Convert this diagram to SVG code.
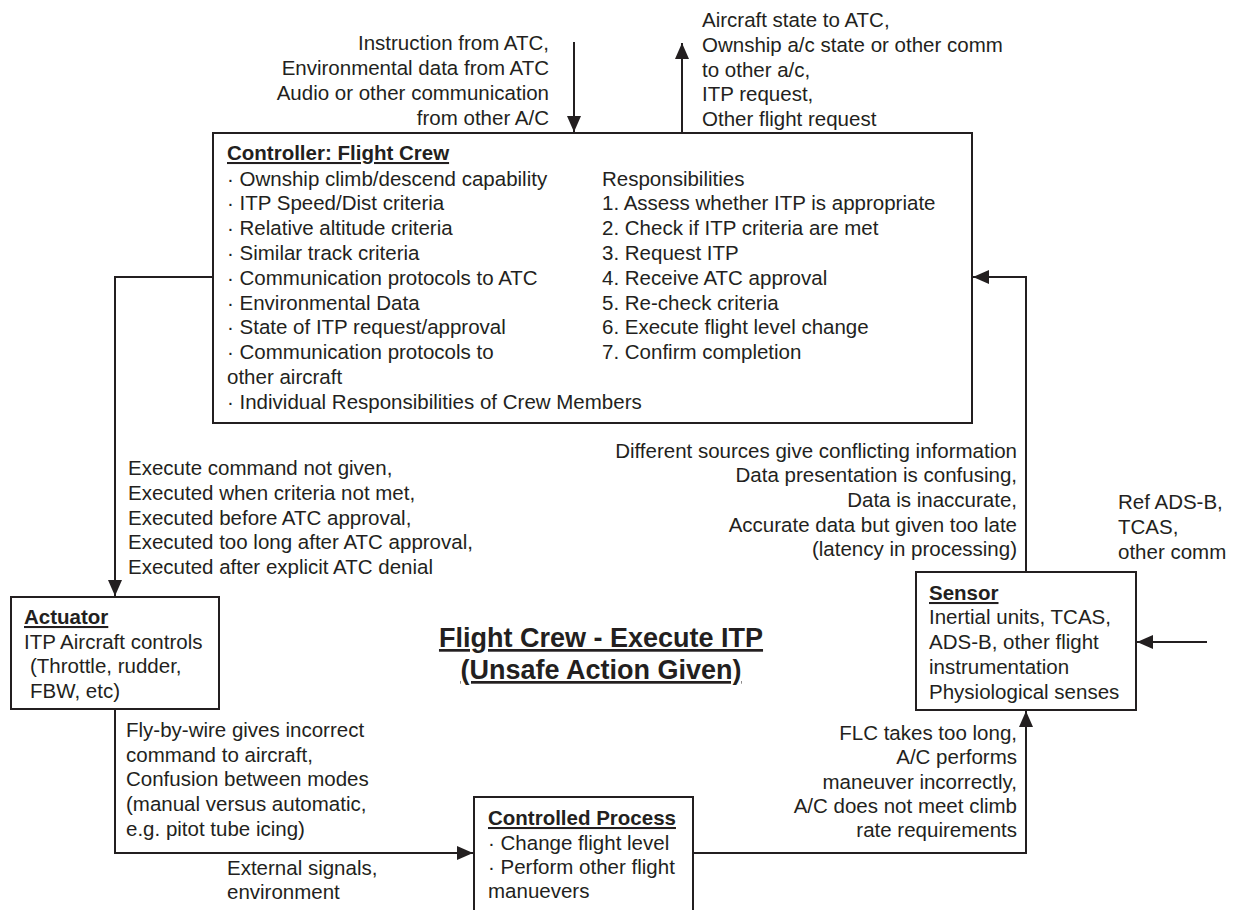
<svg xmlns="http://www.w3.org/2000/svg" width="1233" height="910" viewBox="0 0 1233 910">
<defs>
<style>
text{font-family:"Liberation Sans",Arial,sans-serif;font-size:20.5px;fill:#231f20}
.b{font-weight:bold;text-decoration:underline}
.r{text-anchor:end}
.box{fill:#fff;stroke:#231f20;stroke-width:2}
.c{fill:none;stroke:#231f20;stroke-width:2}
.t{font-weight:bold;font-size:27px;text-anchor:middle;text-decoration:underline}
</style>
<marker id="ah" markerUnits="userSpaceOnUse" markerWidth="16" markerHeight="14" refX="16" refY="7" orient="auto">
<path d="M0,0 L16,7 L0,14 z" fill="#231f20"/>
</marker>
</defs>
<rect width="1233" height="910" fill="#fff"/>

<g id="connectors">
<path class="c" d="M574,42 V132" marker-end="url(#ah)"/>
<path class="c" d="M682,133 V43" marker-end="url(#ah)"/>
<path class="c" d="M213,277 H115 V596" marker-end="url(#ah)"/>
<path class="c" d="M115,709 V853 H473" marker-end="url(#ah)"/>
<path class="c" d="M693,853 H1026 V711" marker-end="url(#ah)"/>
<path class="c" d="M1026,572 V277 H973" marker-end="url(#ah)"/>
<path class="c" d="M1207,642 H1137" marker-end="url(#ah)"/>
</g>

<g id="labels">
<text class="r" x="549" y="50">Instruction from ATC,</text>
<text class="r" x="549" y="75">Environmental data from ATC</text>
<text class="r" x="549" y="100">Audio or other communication</text>
<text class="r" x="549" y="125">from other A/C</text>

<text x="702" y="27">Aircraft state to ATC,</text>
<text x="702" y="51.5">Ownship a/c state or other comm</text>
<text x="702" y="76.5">to other a/c,</text>
<text x="702" y="101">ITP request,</text>
<text x="702" y="126">Other flight request</text>

<text x="128" y="475">Execute command not given,</text>
<text x="128" y="500">Executed when criteria not met,</text>
<text x="128" y="525">Executed before ATC approval,</text>
<text x="128" y="549">Executed too long after ATC approval,</text>
<text x="128" y="574">Executed after explicit ATC denial</text>

<text class="r" x="1017" y="458">Different sources give conflicting information</text>
<text class="r" x="1017" y="482">Data presentation is confusing,</text>
<text class="r" x="1017" y="507">Data is inaccurate,</text>
<text class="r" x="1017" y="532">Accurate data but given too late</text>
<text class="r" x="1017" y="556">(latency in processing)</text>

<text x="1118" y="509">Ref ADS-B,</text>
<text x="1118" y="534">TCAS,</text>
<text x="1118" y="559">other comm</text>

<text x="126" y="737">Fly-by-wire gives incorrect</text>
<text x="126" y="761.5">command to aircraft,</text>
<text x="126" y="786">Confusion between modes</text>
<text x="126" y="811">(manual versus automatic,</text>
<text x="126" y="835.5">e.g. pitot tube icing)</text>

<text x="227" y="875">External signals,</text>
<text x="227" y="899">environment</text>

<text class="r" x="1017" y="740">FLC takes too long,</text>
<text class="r" x="1017" y="764">A/C performs</text>
<text class="r" x="1017" y="789">maneuver incorrectly,</text>
<text class="r" x="1017" y="813">A/C does not meet climb</text>
<text class="r" x="1017" y="837">rate requirements</text>

<text class="t" x="601" y="647">Flight Crew - Execute ITP</text>
<text class="t" x="601" y="679">(Unsafe Action Given)</text>
</g>

<g id="controller">
<rect class="box" x="213" y="133" width="759" height="290"/>
<text class="b" x="227" y="160">Controller: Flight Crew</text>
<text x="227" y="185.5">· Ownship climb/descend capability</text>
<text x="227" y="210.3">· ITP Speed/Dist criteria</text>
<text x="227" y="235.1">· Relative altitude criteria</text>
<text x="227" y="259.9">· Similar track criteria</text>
<text x="227" y="284.7">· Communication protocols to ATC</text>
<text x="227" y="309.5">· Environmental Data</text>
<text x="227" y="334.3">· State of ITP request/approval</text>
<text x="227" y="359.1">· Communication protocols to</text>
<text x="227" y="383.9">other aircraft</text>
<text x="227" y="408.7">· Individual Responsibilities of Crew Members</text>
<text x="602" y="185.5">Responsibilities</text>
<text x="602" y="210.3">1. Assess whether ITP is appropriate</text>
<text x="602" y="235.1">2. Check if ITP criteria are met</text>
<text x="602" y="259.9">3. Request ITP</text>
<text x="602" y="284.7">4. Receive ATC approval</text>
<text x="602" y="309.5">5. Re-check criteria</text>
<text x="602" y="334.3">6. Execute flight level change</text>
<text x="602" y="359.1">7. Confirm completion</text>
</g>

<g id="actuator">
<rect class="box" x="11" y="597" width="208" height="112"/>
<text class="b" x="24" y="624">Actuator</text>
<text x="24" y="649">ITP Aircraft controls</text>
<text x="30" y="673">(Throttle, rudder,</text>
<text x="30" y="698">FBW, etc)</text>
</g>

<g id="controlled-process">
<rect class="box" x="474" y="797" width="219" height="130"/>
<text class="b" x="488" y="825">Controlled Process</text>
<text x="488" y="850">· Change flight level</text>
<text x="488" y="874">· Perform other flight</text>
<text x="488" y="898">manuevers</text>
</g>

<g id="sensor">
<rect class="box" x="916" y="572" width="220" height="138"/>
<text class="b" x="929" y="600">Sensor</text>
<text x="929" y="624">Inertial units, TCAS,</text>
<text x="929" y="649">ADS-B, other flight</text>
<text x="929" y="674">instrumentation</text>
<text x="929" y="699">Physiological senses</text>
</g>
</svg>
